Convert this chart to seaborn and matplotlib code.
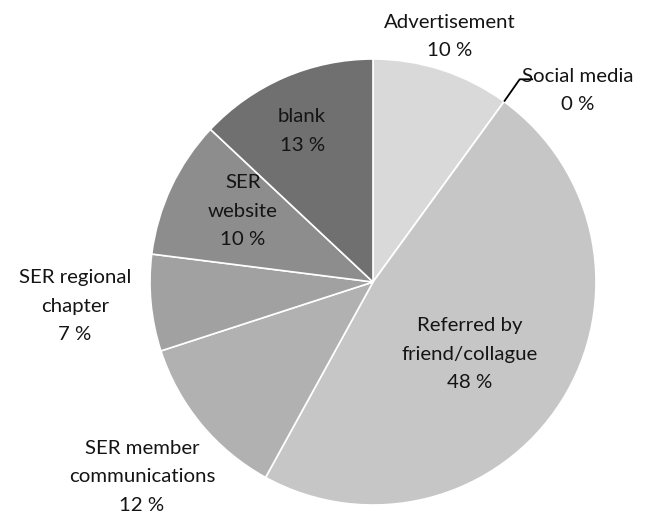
import matplotlib
matplotlib.use("Agg")
import matplotlib.pyplot as plt
import seaborn as sns
import numpy as np

categories = ["Advertisement", "Social media", "Referred by\nfriend/collague",
              "SER member\ncommunications", "SER regional\nchapter", "SER\nwebsite", "blank"]
values = [10, 0, 48, 12, 7, 10, 13]
pct_labels = ["10 %", "0 %", "48 %", "12 %", "7 %", "10 %", "13 %"]
colors = ["#d9d9da", "#c6c6c7", "#c6c6c7", "#b1b1b2", "#a1a1a2", "#8d8d8e", "#707071"]

sns.set_theme(style="white")
plt.rcParams['font.family'] = ['Lato', 'DejaVu Sans']

fig = plt.figure(figsize=(6.6, 5.27), dpi=100)
W, H = 660, 527
cx, cy, r = 373, 282, 223
ax = fig.add_axes([(cx - r) / W, (H - cy - r) / H, 2 * r / W, 2 * r / H])

wedges, _ = ax.pie(values, colors=colors, startangle=90, counterclock=False,
                   radius=1, wedgeprops=dict(edgecolor="white", linewidth=1.2))
ax.set_xlim(-1, 1)
ax.set_ylim(-1, 1)
ax.axis("off")

# label placement (in radius units), per slice
label_pos = [(0.345, 1.10), (0.92, 0.86), (0.435, -0.323), (-1.036, -0.874),
             (-1.336, -0.108), (-0.583, 0.318), (-0.318, 0.677)]
fs = 14.7
for i, (cat, pct) in enumerate(zip(categories, pct_labels)):
    x, y = label_pos[i]
    ax.text(x, y, cat + "\n" + pct, ha="center", va="center", fontsize=fs,
            color="#141414", linespacing=1.8, clip_on=False)

# leader line for Social media
theta = np.deg2rad(90 - 360 * sum(values[:1]) / sum(values))
ex, ey = np.cos(theta), np.sin(theta)
ax.plot([ex, ex + 0.07, ex + 0.13], [ey, ey + 0.10, ey + 0.10], color="black",
        lw=1.3, clip_on=False, solid_capstyle="butt")

fig.savefig("out.png", dpi=100)
